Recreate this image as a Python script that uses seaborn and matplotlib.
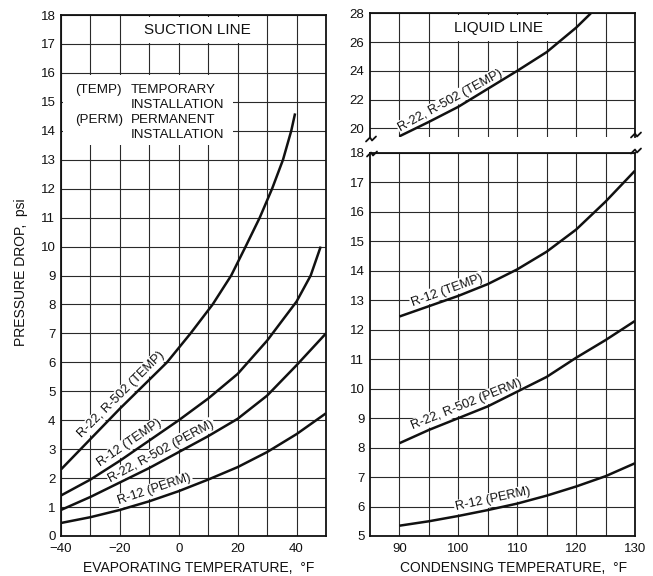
import numpy as np
import pandas as pd
import matplotlib
matplotlib.use("Agg")
import matplotlib.pyplot as plt
import seaborn as sns
from matplotlib.lines import Line2D

# ---- Suction line: evaporating temperature (°F) vs pressure drop (psi) ----
suct_r22_temp_t = [-40, -30, -20, -10, -4, 4, 11.5, 17.8, 22.7, 27.5, 31.7, 35.4, 38.2, 39.5]
suct_r22_temp_p = [2.3, 3.35, 4.4, 5.4, 6.0, 7.0, 8.0, 9.0, 10.0, 11.0, 12.0, 13.0, 14.0, 14.6]

suct_r12_temp_t = [-40, -30, -20, -10, 0, 10, 20, 30, 40, 44.8, 48.2]
suct_r12_temp_p = [1.4, 1.95, 2.6, 3.3, 4.0, 4.75, 5.6, 6.75, 8.1, 9.0, 10.0]

suct_r22_perm_t = [-40, -30, -20, -10, 0, 10, 20, 30, 40, 50]
suct_r22_perm_p = [0.9, 1.35, 1.85, 2.35, 2.9, 3.45, 4.05, 4.85, 5.9, 7.0]

suct_r12_perm_t = [-40, -30, -20, -10, 0, 10, 20, 30, 40, 50]
suct_r12_perm_p = [0.45, 0.65, 0.9, 1.2, 1.55, 1.95, 2.38, 2.9, 3.52, 4.24]

# ---- Liquid line: condensing temperature (°F) vs pressure drop (psi) ----
liq_t = [90, 95, 100, 105, 110, 115, 120, 125, 130]
liq_r12_temp_p = [12.45, 12.8, 13.15, 13.55, 14.05, 14.65, 15.4, 16.35, 17.4]
liq_r22_perm_p = [8.15, 8.6, 9.0, 9.4, 9.9, 10.4, 11.05, 11.65, 12.3]
liq_r12_perm_p = [5.35, 5.5, 5.68, 5.88, 6.1, 6.37, 6.68, 7.03, 7.47]

liq_r22_temp_t = [90, 95, 100, 105, 110, 115, 120, 122.5]
liq_r22_temp_p = [19.45, 20.45, 21.5, 22.75, 24.0, 25.3, 27.0, 28.0]

suction_ticks_x = [-40, -20, 0, 20, 40]
liquid_ticks_x = [90, 100, 110, 120, 130]

sns.set_theme(style="white")
plt.rcParams["font.family"] = ["Liberation Sans", "DejaVu Sans"]
plt.rcParams["axes.unicode_minus"] = True

W, H = 653, 576
fig = plt.figure(figsize=(W / 100, H / 100), dpi=100)
fig.patch.set_facecolor("white")


def axes_px(x0, y0, x1, y1):
    """Axes placed by a pixel box measured from the top-left corner."""
    return fig.add_axes([x0 / W, 1 - y1 / H, (x1 - x0) / W, (y1 - y0) / H])


ax_s = axes_px(61, 15, 326, 536)
ax_u = axes_px(370, 13.3, 635, 137)
ax_l = axes_px(370, 153, 635, 536)

INK = "#111111"


def style(ax, xlim, ylim, xmaj, xmin, ymaj, show_x=True):
    ax.set_facecolor("white")
    ax.set_xlim(*xlim)
    ax.set_ylim(*ylim)
    ax.set_xticks(xmaj)
    ax.set_xticks(xmin, minor=True)
    ax.set_yticks(ymaj)
    ax.set_axisbelow(True)
    ax.grid(which="both", color="#2a2a2a", lw=0.8)
    ax.tick_params(which="both", length=0, labelsize=9.5, colors=INK, pad=4)
    ax.tick_params(axis="x", pad=5, labelbottom=show_x)
    for s in ax.spines.values():
        s.set_color(INK)
        s.set_linewidth(1.3)
    ax.set_xlabel("")
    ax.set_ylabel("")


def curve(ax, xs, ys):
    sns.lineplot(x=xs, y=ys, ax=ax, color=INK, lw=1.8, estimator=None,
                 sort=False, solid_capstyle="butt")


def curve_label(ax, xs, ys, x0, text, offset=6.6, size=9.2):
    y0 = np.interp(x0, xs, ys)
    d = (max(xs) - min(xs)) * 0.06
    p1 = ax.transData.transform((x0 - d, np.interp(x0 - d, xs, ys)))
    p2 = ax.transData.transform((x0 + d, np.interp(x0 + d, xs, ys)))
    ang = np.degrees(np.arctan2(p2[1] - p1[1], p2[0] - p1[0]))
    nx, ny = -np.sin(np.radians(ang)), np.cos(np.radians(ang))
    ax.annotate(text, (x0, y0), xytext=(nx * offset, ny * offset),
                textcoords="offset points", rotation=ang, rotation_mode="anchor",
                ha="center", va="center", fontsize=size, color=INK, zorder=1.5,
                bbox=dict(boxstyle="square,pad=0.1", fc="white", ec="none"))


# ---- left panel ----
style(ax_s, (-40, 50), (0, 18), suction_ticks_x, [-30, -10, 10, 30],
      list(range(0, 19)))
for xs, ys in [(suct_r22_temp_t, suct_r22_temp_p), (suct_r12_temp_t, suct_r12_temp_p),
               (suct_r22_perm_t, suct_r22_perm_p), (suct_r12_perm_t, suct_r12_perm_p)]:
    curve(ax_s, xs, ys)

curve_label(ax_s, suct_r22_temp_t, suct_r22_temp_p, -17.5, "R-22, R-502 (TEMP)")
curve_label(ax_s, suct_r12_temp_t, suct_r12_temp_p, -15.0, "R-12 (TEMP)")
curve_label(ax_s, suct_r22_perm_t, suct_r22_perm_p, -4.5, "R-22, R-502 (PERM)")
curve_label(ax_s, suct_r12_perm_t, suct_r12_perm_p, -7.2, "R-12 (PERM)")

ax_s.text(6.3, 17.48, "SUCTION LINE", ha="center", va="center", fontsize=11,
          color=INK, zorder=4,
          bbox=dict(boxstyle="square,pad=0.4", fc="white", ec="none"))

# key for the abbreviations
ax_s.add_patch(plt.Rectangle((-39.3, 13.5), 57.8, 2.43, fc="white", ec="none", zorder=1))
key_rows = [(15.41, "(TEMP)", "TEMPORARY"), (14.89, "", "INSTALLATION"),
            (14.37, "(PERM)", "PERMANENT"), (13.86, "", "INSTALLATION")]
for y, left, right in key_rows:
    if left:
        ax_s.text(-35.2, y, left, ha="left", va="center", fontsize=9.6, color=INK, zorder=4)
    ax_s.text(-16.4, y, right, ha="left", va="center", fontsize=9.6, color=INK, zorder=4)

# ---- right panel, upper (broken) part ----
style(ax_u, (85, 130), (19.4, 28), liquid_ticks_x, [95, 105, 115, 125],
      [20, 22, 24, 26, 28], show_x=False)
ax_u.spines["bottom"].set_visible(False)
curve(ax_u, liq_r22_temp_t, liq_r22_temp_p)
curve_label(ax_u, liq_r22_temp_t, liq_r22_temp_p, 99.4, "R-22, R-502 (TEMP)")
ax_u.text(106.9, 26.96, "LIQUID LINE", ha="center", va="center", fontsize=11,
          color=INK, zorder=4,
          bbox=dict(boxstyle="square,pad=0.4", fc="white", ec="none"))

# ---- right panel, lower part ----
style(ax_l, (85, 130), (5, 18), liquid_ticks_x, [95, 105, 115, 125],
      list(range(5, 19)))
for ys in [liq_r12_temp_p, liq_r22_perm_p, liq_r12_perm_p]:
    curve(ax_l, liq_t, ys)
curve_label(ax_l, liq_t, liq_r12_temp_p, 98.6, "R-12 (TEMP)")
curve_label(ax_l, liq_t, liq_r22_perm_p, 102.0, "R-22, R-502 (PERM)")
curve_label(ax_l, liq_t, liq_r12_perm_p, 106.2, "R-12 (PERM)")

# axis-break zigzags
for cx, cy in [(371, 139), (372, 154), (636, 135), (636, 151)]:
    zx = np.array([-5, -1, 1, 5]) + cx
    zy = np.array([2.5, -1.5, 1.5, -2.5]) + cy
    fig.add_artist(Line2D(zx / W, 1 - zy / H, color=INK, lw=1.3))

# axis titles
fig.text(21 / W, 1 - 272 / H, "PRESSURE DROP,  psi", rotation=90, ha="center",
         va="center", fontsize=10, color=INK)
fig.text(199 / W, 1 - 568 / H, "EVAPORATING TEMPERATURE,  °F", ha="center",
         va="center", fontsize=10, color=INK)
fig.text(514 / W, 1 - 568 / H, "CONDENSING TEMPERATURE,  °F", ha="center",
         va="center", fontsize=10, color=INK)

fig.savefig("out.png", dpi=100, facecolor="white")
